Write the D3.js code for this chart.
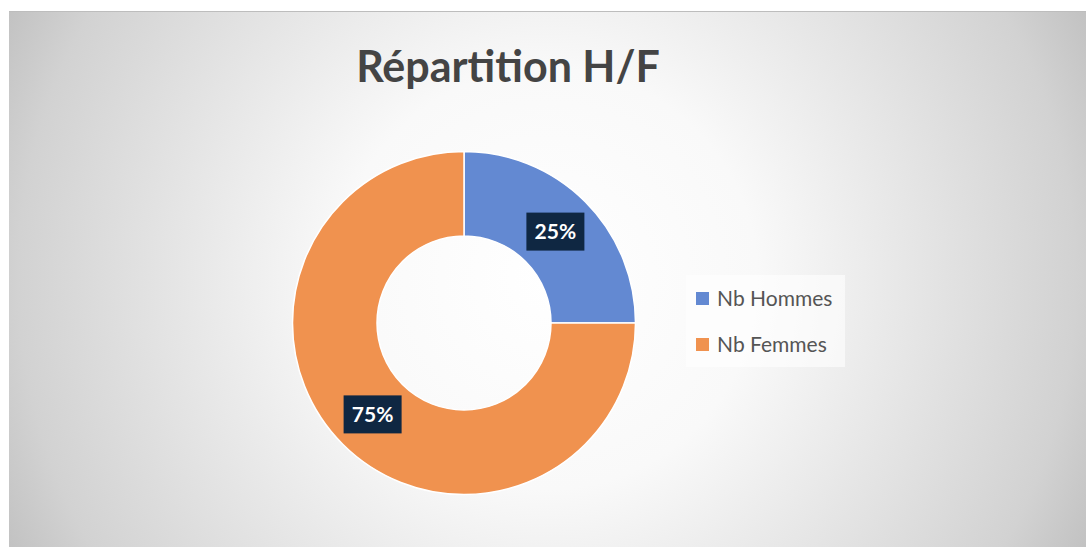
<!DOCTYPE html>
<html>
<head>
<meta charset="utf-8">
<script src="https://cdn.jsdelivr.net/npm/d3@7"></script>
<style>
  html, body { margin: 0; padding: 0; background: #fff; }
  svg { display: block; }
</style>
</head>
<body>
<div id="chart"></div>
<script>
// data
var categories = ["Nb Hommes", "Nb Femmes"];
var values = [25, 75];
var colors = ["#6389D2", "#F0924F"];
var title = "Répartition H/F";

var width = 1086, height = 547;
var font = "Lato, 'Open Sans', sans-serif";

var svg = d3.select("#chart").append("svg")
    .attr("width", width)
    .attr("height", height);

// radial background, white in the middle, grey toward the corners
var defs = svg.append("defs");
var grad = defs.append("radialGradient")
    .attr("id", "bg")
    .attr("gradientUnits", "userSpaceOnUse")
    .attr("cx", 547).attr("cy", 279).attr("r", 601);
grad.append("stop").attr("offset", "0%").attr("stop-color", "#ffffff");
grad.append("stop").attr("offset", "35%").attr("stop-color", "#f9f9f9");
grad.append("stop").attr("offset", "88%").attr("stop-color", "#d2d2d2");
grad.append("stop").attr("offset", "100%").attr("stop-color", "#c2c2c2");

svg.append("rect")
    .attr("x", 9).attr("y", 11)
    .attr("width", width - 9).attr("height", height - 11)
    .attr("fill", "url(#bg)");
svg.append("line")
    .attr("x1", 9).attr("x2", width)
    .attr("y1", 11.5).attr("y2", 11.5)
    .attr("stroke", "#bdbdbd");

svg.append("text")
    .attr("x", 508).attr("y", 82)
    .attr("text-anchor", "middle")
    .style("font-family", font)
    .style("font-weight", "bold")
    .style("font-size", "43px")
    .style("fill", "#444444")
    .text(title);

var data = categories.map(function(c, i) {
    return { name: c, value: values[i], color: colors[i] };
});

var cx = 464, cy = 323, outerR = 171.5, innerR = 87;

var pie = d3.pie().sort(null).value(function(d) { return d.value; });
var arc = d3.arc().innerRadius(innerR).outerRadius(outerR);
var total = d3.sum(values);
var fmt = d3.format(".0%");

var g = svg.append("g").attr("transform", "translate(" + cx + "," + cy + ")");

g.selectAll("path.slice")
    .data(pie(data))
    .enter()
    .append("path")
    .attr("class", "slice")
    .attr("d", arc)
    .attr("fill", function(d) { return d.data.color; })
    .attr("stroke", "#ffffff")
    .attr("stroke-width", 1.5);

// percent labels in dark boxes
var labels = g.selectAll("g.lbl")
    .data(pie(data))
    .enter()
    .append("g")
    .attr("class", "lbl")
    .attr("transform", function(d) {
        var c = arc.centroid(d);
        return "translate(" + c[0] + "," + c[1] + ")";
    });

labels.append("rect")
    .attr("x", -29).attr("y", -19)
    .attr("width", 58).attr("height", 38)
    .attr("fill", "#0f2742");

labels.append("text")
    .attr("text-anchor", "middle")
    .attr("y", 7.5)
    .style("font-family", font)
    .style("font-weight", "bold")
    .style("font-size", "21px")
    .style("fill", "#ffffff")
    .text(function(d) { return fmt(d.data.value / total); });

// legend
var legend = svg.append("g");
legend.append("rect")
    .attr("x", 686).attr("y", 275)
    .attr("width", 159).attr("height", 92)
    .attr("fill", "#ffffff")
    .attr("fill-opacity", 0.6);

var item = legend.selectAll("g.item")
    .data(data)
    .enter()
    .append("g")
    .attr("class", "item")
    .attr("transform", function(d, i) { return "translate(696," + (292 + i * 46) + ")"; });

item.append("rect")
    .attr("width", 13).attr("height", 13)
    .attr("fill", function(d) { return d.color; });

item.append("text")
    .attr("x", 21).attr("y", 13.5)
    .style("font-family", font)
    .style("font-size", "21px")
    .style("fill", "#555555")
    .text(function(d) { return d.name; });
</script>
</body>
</html>
